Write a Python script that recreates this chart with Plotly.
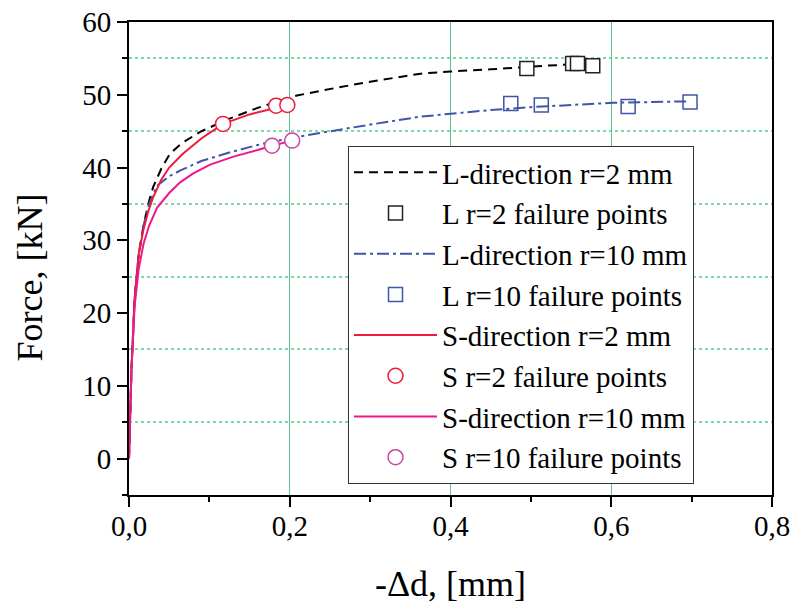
import plotly.graph_objects as go

# ---- data ----
l2_x = [0, 0.003, 0.007, 0.012, 0.018, 0.024, 0.03, 0.04, 0.051, 0.065, 0.0885, 0.12, 0.16, 0.209,
        0.26, 0.30, 0.363, 0.40, 0.45, 0.488, 0.52, 0.555, 0.577]
l2_y = [0, 12, 22, 28, 32, 35, 37.3, 39.8, 41.9, 43.3, 44.9, 46.5, 48.2, 49.9,
        51.0, 51.8, 52.9, 53.2, 53.5, 53.8, 54.0, 54.2, 54.1]

l10_x = [0, 0.003, 0.007, 0.012, 0.018, 0.025, 0.035, 0.05, 0.064, 0.09, 0.126, 0.16, 0.203,
         0.25, 0.30, 0.363, 0.40, 0.45, 0.5, 0.55, 0.602, 0.65, 0.698]
l10_y = [0, 12, 22, 28, 32, 35, 37.5, 38.8, 39.6, 40.9, 42.1, 43.1, 44.1,
         45.0, 45.9, 47.0, 47.4, 47.9, 48.3, 48.6, 48.9, 49.0, 49.1]

s2_x = [0, 0.003, 0.007, 0.012, 0.018, 0.024, 0.03, 0.04, 0.05, 0.067, 0.09, 0.117, 0.15, 0.184, 0.198]
s2_y = [0, 12, 22, 28, 31.5, 34, 35.9, 38.3, 40, 41.9, 44, 46.0, 47.3, 48.2, 48.6]

s10_x = [0, 0.003, 0.007, 0.012, 0.018, 0.025, 0.035, 0.05, 0.064, 0.08, 0.101, 0.13, 0.16, 0.178, 0.203]
s10_y = [0, 12, 21, 26, 29.5, 32, 34.5, 36.5, 38, 39.2, 40.4, 41.5, 42.4, 43.0, 43.7]

l2_fail_x = [0.495, 0.552, 0.558, 0.577]
l2_fail_y = [53.6, 54.3, 54.3, 54.0]
l10_fail_x = [0.475, 0.513, 0.621, 0.698]
l10_fail_y = [48.8, 48.6, 48.4, 49.0]
s2_fail_x = [0.117, 0.183, 0.197]
s2_fail_y = [46.0, 48.5, 48.6]
s10_fail_x = [0.178, 0.203]
s10_fail_y = [43.0, 43.7]

names = ["L-direction r=2 mm", "L r=2 failure points", "L-direction r=10 mm", "L r=10 failure points",
         "S-direction r=2 mm", "S r=2 failure points", "S-direction r=10 mm", "S r=10 failure points"]

BLACK = "#000000"
BLUE = "#3F56A8"
RED = "#EE1C3A"
MAGENTA = "#F0168C"
PURPLE = "#C8479E"
FONT = "Liberation Serif"

fig = go.Figure()
fig.add_trace(go.Scatter(x=l2_x, y=l2_y, mode="lines", name=names[0],
                         line=dict(color=BLACK, width=2, dash="9px,6px")))
fig.add_trace(go.Scatter(x=l2_fail_x, y=l2_fail_y, mode="markers", name=names[1],
                         marker=dict(symbol="square", size=14, color="white",
                                     line=dict(color="#222222", width=1.5))))
fig.add_trace(go.Scatter(x=l10_x, y=l10_y, mode="lines", name=names[2],
                         line=dict(color=BLUE, width=2, dash="12px,4px,3px,4px")))
fig.add_trace(go.Scatter(x=l10_fail_x, y=l10_fail_y, mode="markers", name=names[3],
                         marker=dict(symbol="square-open", size=14, color=BLUE,
                                     line=dict(color=BLUE, width=1.5))))
fig.add_trace(go.Scatter(x=s2_x, y=s2_y, mode="lines", name=names[4],
                         line=dict(color=RED, width=2)))
fig.add_trace(go.Scatter(x=s2_fail_x, y=s2_fail_y, mode="markers", name=names[5],
                         marker=dict(symbol="circle", size=15, color="white",
                                     line=dict(color=RED, width=1.5))))
fig.add_trace(go.Scatter(x=s10_x, y=s10_y, mode="lines", name=names[6],
                         line=dict(color=MAGENTA, width=2)))
fig.add_trace(go.Scatter(x=s10_fail_x, y=s10_fail_y, mode="markers", name=names[7],
                         marker=dict(symbol="circle", size=15, color="white",
                                     line=dict(color=PURPLE, width=1.5))))

fig.update_layout(
    width=793, height=606,
    margin=dict(l=129, r=21, t=22, b=111),
    paper_bgcolor="white", plot_bgcolor="white",
    separators=", ",
    font=dict(family=FONT, size=29, color="black"),
    showlegend=True,
    legend=dict(x=0.3406, y=0.738, xanchor="left", yanchor="top",
                bgcolor="white", bordercolor="#333333", borderwidth=1,
                font=dict(family=FONT, size=29, color="black"),
                itemwidth=83, tracegroupgap=0),
)

fig.update_xaxes(
    range=[0, 0.8], dtick=0.2, tick0=0, tickformat=".1f", automargin=False,
    showline=True, linecolor="black", linewidth=2, mirror=True,
    ticks="outside", ticklen=10, tickwidth=2, tickcolor="black",
    showgrid=True, gridcolor="#5CC48E", gridwidth=1,
    zeroline=False, ticklabelstandoff=-6,
    minor=dict(dtick=0.1, ticks="outside", ticklen=5, tickwidth=2, tickcolor="black", showgrid=False),
    tickfont=dict(family=FONT, size=29),
    title=dict(text="-Δd, [mm]", font=dict(family=FONT, size=36), standoff=30),
)
fig.update_yaxes(
    range=[-5, 60], dtick=10, tick0=0, automargin=False,
    showline=True, linecolor="black", linewidth=2, mirror=True,
    ticks="outside", ticklen=10, tickwidth=2, tickcolor="black",
    showgrid=False, zeroline=False,
    minor=dict(dtick=5, ticks="outside", ticklen=5, tickwidth=2, tickcolor="black",
               showgrid=True, gridcolor="#7FD8A8", gridwidth=1.5, griddash="dot"),
    tickfont=dict(family=FONT, size=29),
)

fig.add_annotation(text="Force, [kN]", xref="paper", yref="paper", x=-0.154, y=0.46,
                   textangle=-90, showarrow=False, xanchor="center", yanchor="middle",
                   font=dict(family=FONT, size=36, color="black"))

fig.write_html("out.html", config={"displayModeBar": False},
               post_script="document.body.style.margin='0';")
